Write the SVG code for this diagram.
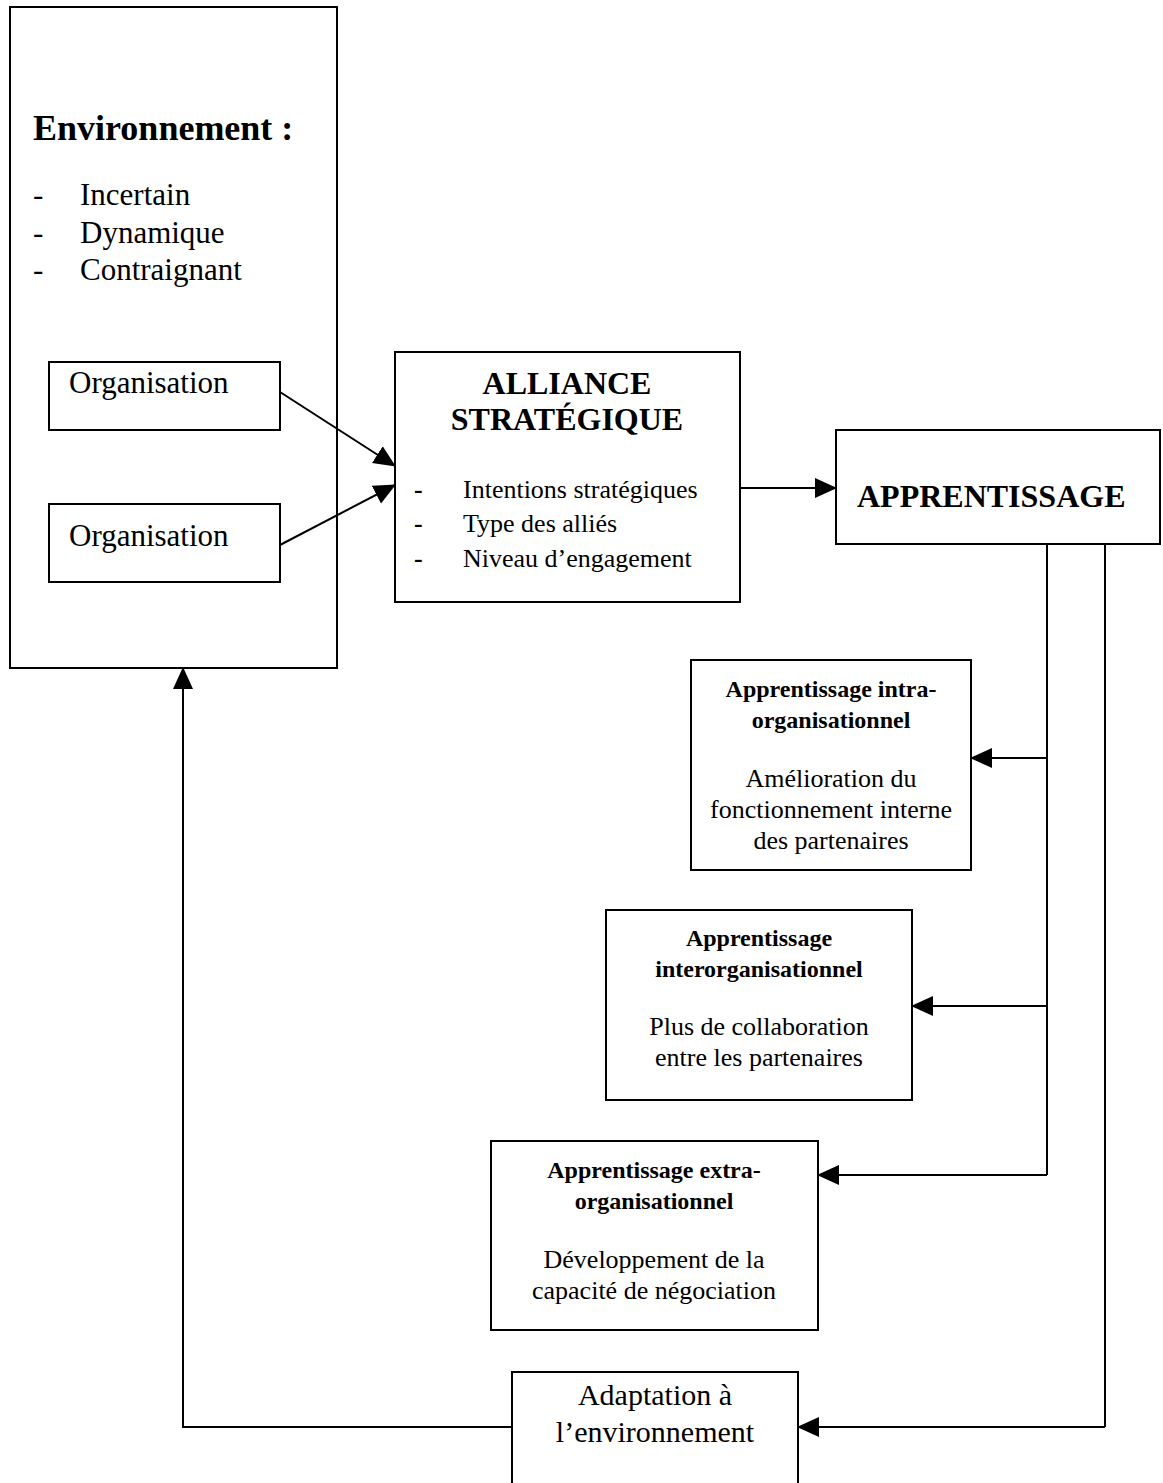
<svg xmlns="http://www.w3.org/2000/svg" width="1163" height="1483" viewBox="0 0 1163 1483">
  <style>
    .box { fill: #fff; stroke: #000; stroke-width: 2; }
    .wire { fill: none; stroke: #000; stroke-width: 2; }
    text { font-family: "Liberation Serif", "Times New Roman", serif; fill: #000; }
    .b { font-weight: bold; }
    .c { text-anchor: middle; }
  </style>
  <defs>
    <marker id="arrow" markerUnits="userSpaceOnUse" markerWidth="22" markerHeight="22" viewBox="0 0 22 22" refX="21" refY="11" orient="auto">
      <path d="M0,1 L22,11 L0,21 Z" fill="#000"/>
    </marker>
  </defs>
  <rect width="1163" height="1483" fill="#fff"/>

  <g id="connectors">
    <line class="wire" x1="280" y1="392" x2="395" y2="466" marker-end="url(#arrow)"/>
    <line class="wire" x1="280" y1="545" x2="395" y2="485" marker-end="url(#arrow)"/>
    <line class="wire" x1="740" y1="488" x2="836" y2="488" marker-end="url(#arrow)"/>
    <polyline class="wire" points="1047,544 1047,1175"/>
    <polyline class="wire" points="1105,544 1105,1427"/>
    <line class="wire" x1="1047" y1="758" x2="971" y2="758" marker-end="url(#arrow)"/>
    <line class="wire" x1="1047" y1="1006" x2="912" y2="1006" marker-end="url(#arrow)"/>
    <line class="wire" x1="1047" y1="1175" x2="818" y2="1175" marker-end="url(#arrow)"/>
    <line class="wire" x1="1105" y1="1427" x2="798" y2="1427" marker-end="url(#arrow)"/>
    <polyline class="wire" points="512,1427 183,1427 183,668" marker-end="url(#arrow)"/>
  </g>

  <g id="environnement">
    <rect class="box" x="10" y="7" width="327" height="661" fill-opacity="0"/>
    <text class="b" x="33" y="140" font-size="36">Environnement :</text>
    <g font-size="31">
      <text x="33" y="205">-</text><text x="80" y="205">Incertain</text>
      <text x="33" y="243">-</text><text x="80" y="243">Dynamique</text>
      <text x="33" y="280">-</text><text x="80" y="280">Contraignant</text>
    </g>
  </g>

  <g id="organisation-1">
    <rect class="box" x="49" y="362" width="231" height="68"/>
    <text x="69" y="393" font-size="31">Organisation</text>
  </g>

  <g id="organisation-2">
    <rect class="box" x="49" y="504" width="231" height="78"/>
    <text x="69" y="546" font-size="31">Organisation</text>
  </g>

  <g id="alliance">
    <rect class="box" x="395" y="352" width="345" height="250"/>
    <text class="b c" x="567" y="394" font-size="32">ALLIANCE</text>
    <text class="b c" x="567" y="430" font-size="32">STRATÉGIQUE</text>
    <g font-size="26">
      <text x="414" y="498" class="b">-</text><text x="463" y="498">Intentions stratégiques</text>
      <text x="414" y="532" class="b">-</text><text x="463" y="532">Type des alliés</text>
      <text x="414" y="567" class="b">-</text><text x="463" y="567">Niveau d’engagement</text>
    </g>
  </g>

  <g id="apprentissage">
    <rect class="box" x="836" y="430" width="324" height="114"/>
    <text class="b" x="857" y="507" font-size="32">APPRENTISSAGE</text>
  </g>

  <g id="intra">
    <rect class="box" x="691" y="660" width="280" height="210"/>
    <text class="b c" x="831" y="697" font-size="24">Apprentissage intra-</text>
    <text class="b c" x="831" y="728" font-size="24">organisationnel</text>
    <text class="c" x="831" y="787" font-size="26">Amélioration du</text>
    <text class="c" x="831" y="818" font-size="26">fonctionnement interne</text>
    <text class="c" x="831" y="849" font-size="26">des partenaires</text>
  </g>

  <g id="inter">
    <rect class="box" x="606" y="910" width="306" height="190"/>
    <text class="b c" x="759" y="946" font-size="24">Apprentissage</text>
    <text class="b c" x="759" y="977" font-size="24">interorganisationnel</text>
    <text class="c" x="759" y="1035" font-size="26">Plus de collaboration</text>
    <text class="c" x="759" y="1066" font-size="26">entre les partenaires</text>
  </g>

  <g id="extra">
    <rect class="box" x="491" y="1141" width="327" height="189"/>
    <text class="b c" x="654" y="1178" font-size="24">Apprentissage extra-</text>
    <text class="b c" x="654" y="1209" font-size="24">organisationnel</text>
    <text class="c" x="654" y="1268" font-size="26">Développement de la</text>
    <text class="c" x="654" y="1299" font-size="26">capacité de négociation</text>
  </g>

  <g id="adaptation">
    <rect class="box" x="512" y="1372" width="286" height="130"/>
    <text class="c" x="655" y="1405" font-size="30">Adaptation à</text>
    <text class="c" x="655" y="1442" font-size="30">l’environnement</text>
  </g>
</svg>
